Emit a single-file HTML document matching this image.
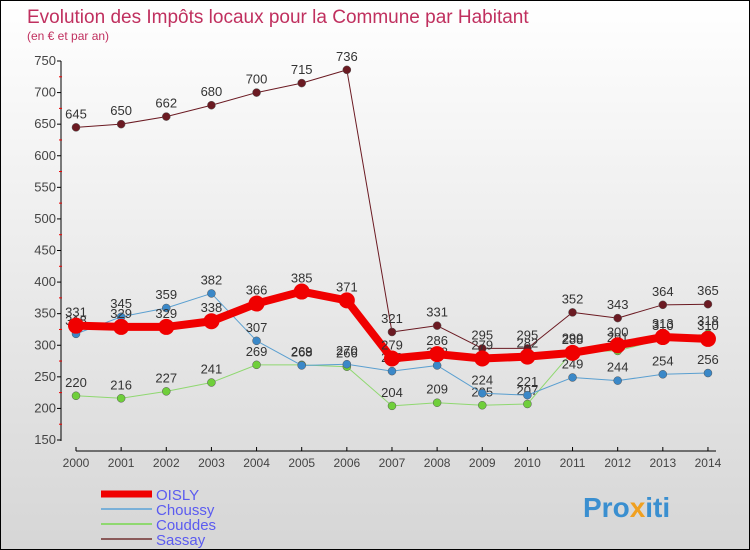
<!DOCTYPE html>
<html><head><meta charset="utf-8"><style>
body{margin:0}
#c{position:relative;width:748px;height:548px;border:1px solid #000;background:linear-gradient(#fff,#d6d6d6);font-family:"Liberation Sans",sans-serif;overflow:hidden}
</style></head><body>
<div id="c">
<svg id="s" width="748" height="548" style="position:absolute;left:0;top:0">
<text x="26" y="22" font-size="19" fill="#c0305f">Evolution des Impôts locaux pour la Commune par Habitant</text>
<text x="26" y="39" font-size="12" fill="#c0305f">(en € et par an)</text>
<g id="axes"></g><g id="series"></g><g id="legend"></g>
<text x="582" y="516" font-size="28" font-weight="bold" fill="#3a8fd0">Pro<tspan fill="#f0a020">x</tspan>iti</text>
</svg></div>
<script>
const years=[2000,2001,2002,2003,2004,2005,2006,2007,2008,2009,2010,2011,2012,2013,2014];
const yTicks=[150,200,250,300,350,400,450,500,550,600,650,700,750];
const oisly=[331,329,329,338,366,385,371,279,286,279,282,288,300,313,310];
const choussy=[318,345,359,382,307,268,270,259,268,224,221,249,244,254,256];
const couddes=[220,216,227,241,269,269,266,204,209,205,207,290,291,310,318];
const sassay=[645,650,662,680,700,715,736,321,331,295,295,352,343,364,365];
const NS="http://www.w3.org/2000/svg";
const X=i=>75+i*45.14, Y=v=>439-(v-150)*379/600;
function el(t,a,p){const e=document.createElementNS(NS,t);for(const k in a)e.setAttribute(k,a[k]);p.appendChild(e);return e;}
const ax=document.getElementById('axes');
let l=el('line',{x1:60,y1:60,x2:60,y2:440,stroke:'#000'},ax);

l=el('line',{x1:75,y1:450,x2:715,y2:450,stroke:'#000'},ax);

yTicks.forEach(v=>{el('line',{x1:56,y1:Y(v),x2:60,y2:Y(v),stroke:'#000'},ax);
 if(v<750)el('line',{x1:58,y1:Y(v+25),x2:61,y2:Y(v+25),stroke:'#e00'},ax);
 const t=el('text',{x:55,y:Y(v)+4,'text-anchor':'end','font-size':13,fill:'#444'},ax);t.textContent=v;
 });
years.forEach((y,i)=>{el('line',{x1:X(i),y1:446,x2:X(i),y2:450,stroke:'#000'},ax);
 const t=el('text',{x:X(i),y:466,'text-anchor':'middle','font-size':12,fill:'#444'},ax);t.textContent=y;
 });
const sg=document.getElementById('series');
const defs=[['sassay',sassay,'#6b1a22','#6b1a22',1,4],['couddes',couddes,'#8fd870','#6fcf3a',1,4],['choussy',choussy,'#5a9fd0','#3a88c8',1,4],['oisly',oisly,'#f00000','#f00000',8,8]];
defs.forEach(([n,d,c,pc,w,r])=>{
 const g=el('g',{},sg);
 const p=el('polyline',{points:d.map((v,i)=>X(i)+','+Y(v)).join(' '),fill:'none',stroke:c,'stroke-width':w,'stroke-linejoin':'round'},g);
 
 d.forEach((v,i)=>{const cc=el('circle',{cx:X(i),cy:Y(v),r:r,fill:pc,stroke:n=='oisly'?'none':'#555','stroke-width':0.5},g);
  
  const t=el('text',{x:X(i),y:Y(v)-9,'text-anchor':'middle','font-size':13,fill:'#333'},g);t.textContent=v;
  });
});
const lg=document.getElementById('legend');
[['OISLY','#f00000',7],['Choussy','#7ab0d8',2],['Couddes','#8fd870',2],['Sassay','#8a5a5a',2]].forEach(([n,c,w],i)=>{
 const y=493+i*15;
 const ln=el('line',{x1:100,y1:y,x2:151,y2:y,stroke:c,'stroke-width':w},lg);
 
 const t=el('text',{x:155,y:y+6,'font-size':15,fill:'#5b5bf0'},lg);t.textContent=n;
 });
</script>
</body></html>
